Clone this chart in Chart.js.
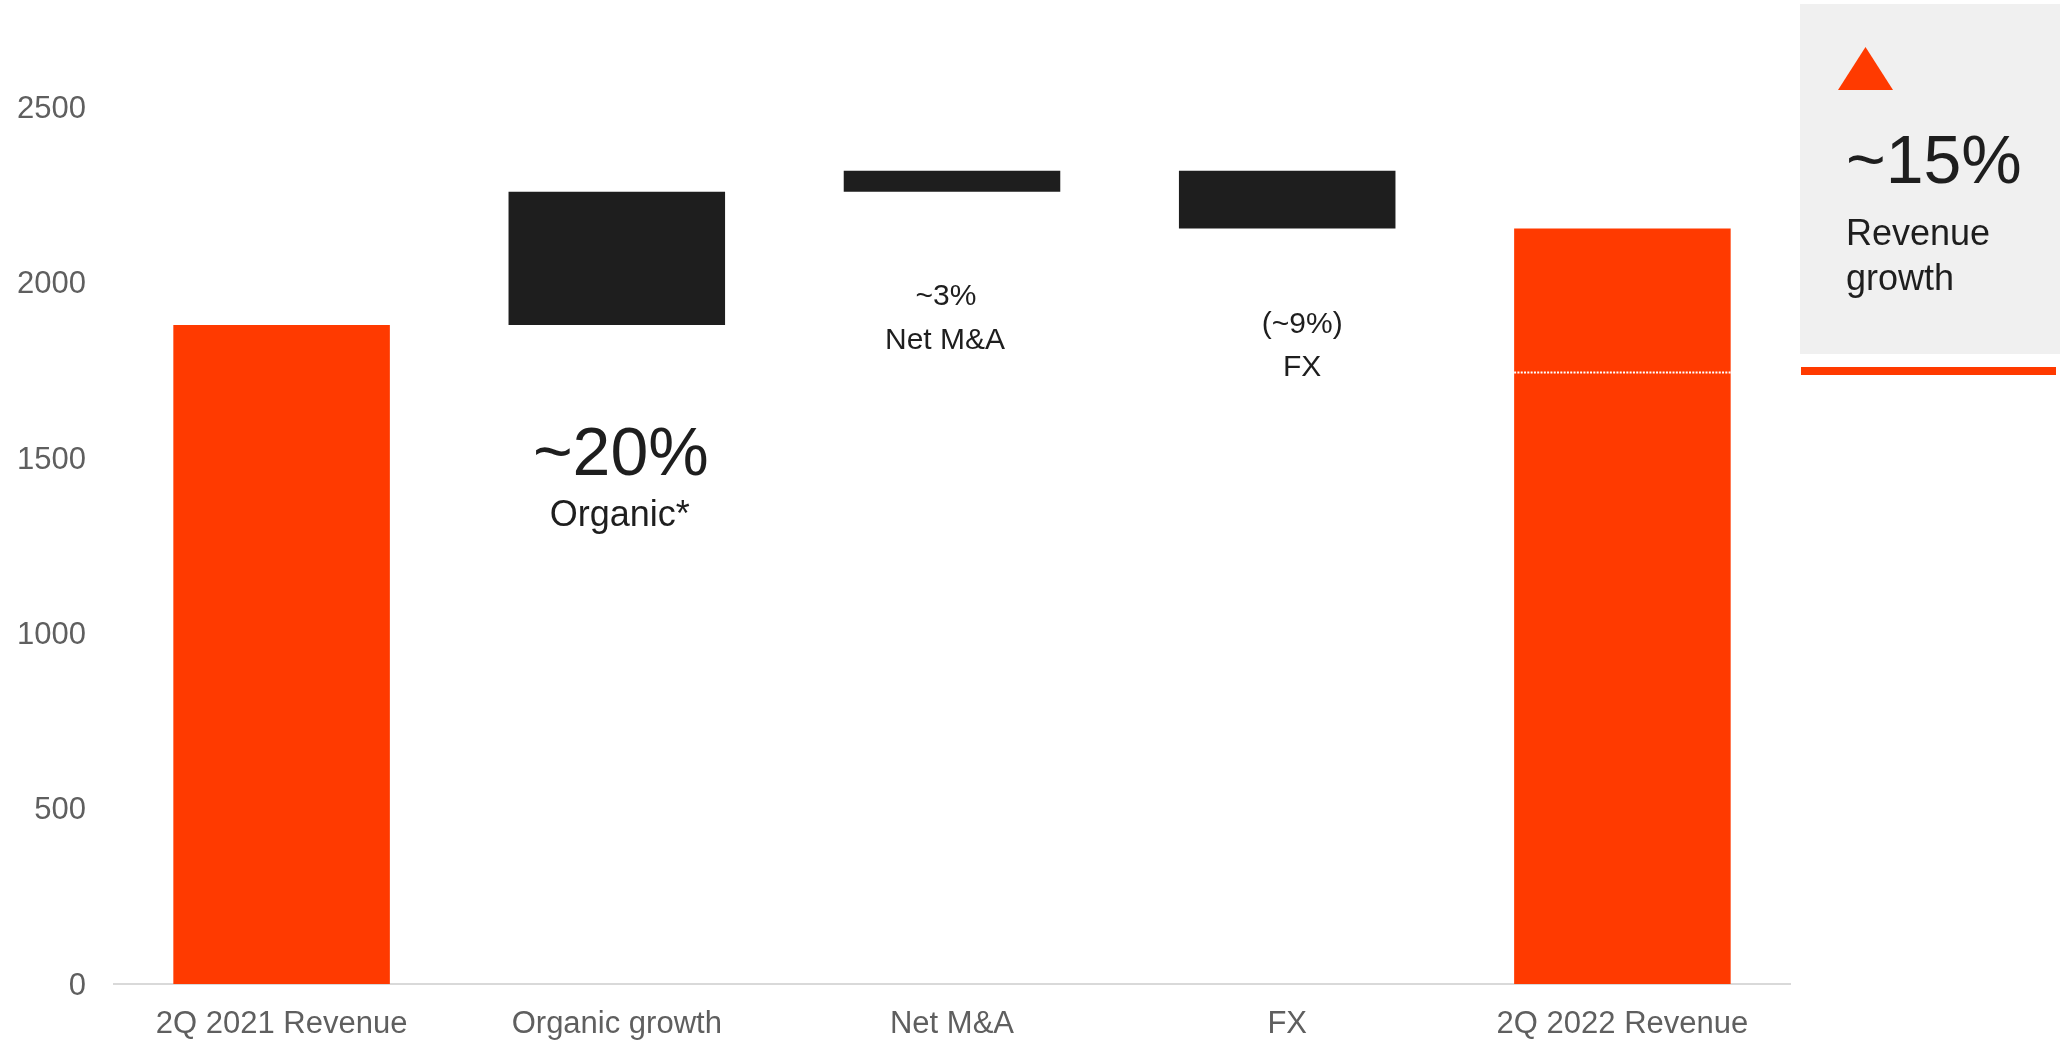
<!DOCTYPE html>
<html>
<head>
<meta charset="utf-8">
<script src="https://cdn.jsdelivr.net/npm/chart.js@4"></script>
<style>
  html, body { margin: 0; padding: 0; background: #fff; }
  #wrap { position: relative; width: 2062px; height: 1042px; }
</style>
</head>
<body>
<div id="wrap"><canvas id="bridge" width="2062" height="1042"></canvas></div>
<script>
// Revenue bridge 2Q 2021 -> 2Q 2022
const categories = ['2Q 2021 Revenue', 'Organic growth', 'Net M&A', 'FX', '2Q 2022 Revenue'];
const barLows  = [0, 1880, 2260, 2155, 0];
const barHighs = [1880, 2260, 2320, 2320, 2155];
const barKinds = ['total', 'step', 'step', 'step', 'total'];
const yTicks = [0, 500, 1000, 1500, 2000, 2500];
const markerValue = 1745;   // dotted line inside last bar
const stepNotes = ['~20%', 'Organic*', '~3%', 'Net M&A', '(~9%)', 'FX'];
const panelNotes = ['~15%', 'Revenue', 'growth'];

const ORANGE = '#ff3a00';
const DARK = '#1e1e1e';
const GREY = '#5f5f5f';
const FONT = '"Liberation Sans", Arial, sans-serif';

const bars = categories.map((c, i) => [barLows[i], barHighs[i]]);

// text under the step bars + growth panel on the right
const notesPlugin = {
    id: 'notes',
    afterDatasetsDraw(chart) {
        const ctx = chart.ctx;
        const x = chart.scales.x;
        const y = chart.scales.y;

        // dotted line in the closing bar
        const last = chart.getDatasetMeta(0).data[4];
        const my = Math.round(y.getPixelForValue(markerValue)) + 0.5;
        ctx.save();
        ctx.strokeStyle = '#ffffff';
        ctx.lineWidth = 2;
        ctx.setLineDash([2, 1.3]);
        ctx.beginPath();
        ctx.moveTo(last.x - last.width / 2, my);
        ctx.lineTo(last.x + last.width / 2, my);
        ctx.stroke();
        ctx.restore();

        const layout = [
            { idx: 1, dx: 4,  y: 475, size: 68 },
            { idx: 1, dx: 3,  y: 526, size: 36 },
            { idx: 2, dx: -6, y: 305, size: 30 },
            { idx: 2, dx: -7, y: 349, size: 30 },
            { idx: 3, dx: 15, y: 333, size: 30 },
            { idx: 3, dx: 15, y: 376, size: 30 }
        ];
        ctx.save();
        ctx.fillStyle = DARK;
        ctx.textAlign = 'center';
        ctx.textBaseline = 'alphabetic';
        layout.forEach((l, i) => {
            ctx.font = l.size + 'px ' + FONT;
            ctx.fillText(stepNotes[i], x.getPixelForValue(l.idx) + l.dx, l.y);
        });
        ctx.restore();

        // growth panel
        ctx.save();
        ctx.fillStyle = '#f0f0f0';
        ctx.fillRect(1800, 4, 260, 350);
        ctx.fillStyle = ORANGE;
        ctx.beginPath();
        ctx.moveTo(1838, 90);
        ctx.lineTo(1865.5, 47);
        ctx.lineTo(1893, 90);
        ctx.closePath();
        ctx.fill();
        ctx.fillRect(1801, 367, 255, 8);
        ctx.fillStyle = DARK;
        ctx.textAlign = 'left';
        ctx.font = '68px ' + FONT;
        ctx.fillText(panelNotes[0], 1846, 183);
        ctx.font = '36px ' + FONT;
        ctx.fillText(panelNotes[1], 1846, 245);
        ctx.fillText(panelNotes[2], 1846, 290);
        ctx.restore();
    }
};

new Chart(document.getElementById('bridge'), {
    type: 'bar',
    data: {
        labels: categories,
        datasets: [{
            data: bars,
            backgroundColor: barKinds.map(k => k === 'total' ? ORANGE : DARK),
            borderWidth: 0,
            barPercentage: 0.646,
            categoryPercentage: 1
        }]
    },
    options: {
        responsive: false,
        animation: false,
        layout: { padding: { top: 20, right: 272, bottom: 0, left: 0 } },
        plugins: { legend: { display: false }, tooltip: { enabled: false } },
        scales: {
            x: {
                grid: { display: false, drawTicks: false },
                border: { display: true, color: '#d9d9d9', width: 2 },
                ticks: { color: GREY, font: { family: FONT, size: 31 }, padding: 22, maxRotation: 0 },
                afterFit(scale) { scale.height = 58; scale.paddingLeft = 0; scale.paddingRight = 0; }
            },
            y: {
                min: 0,
                max: 2750,
                grid: { display: false, drawTicks: false },
                border: { display: false },
                ticks: { color: GREY, font: { family: FONT, size: 31 }, padding: 28, labelOffset: 2, callback: v => String(v) },
                afterBuildTicks(scale) { scale.ticks = yTicks.map(v => ({ value: v })); },
                afterFit(scale) { scale.width = 114; scale.paddingTop = 0; scale.paddingBottom = 0; }
            }
        }
    },
    plugins: [notesPlugin]
});
</script>
</body>
</html>
